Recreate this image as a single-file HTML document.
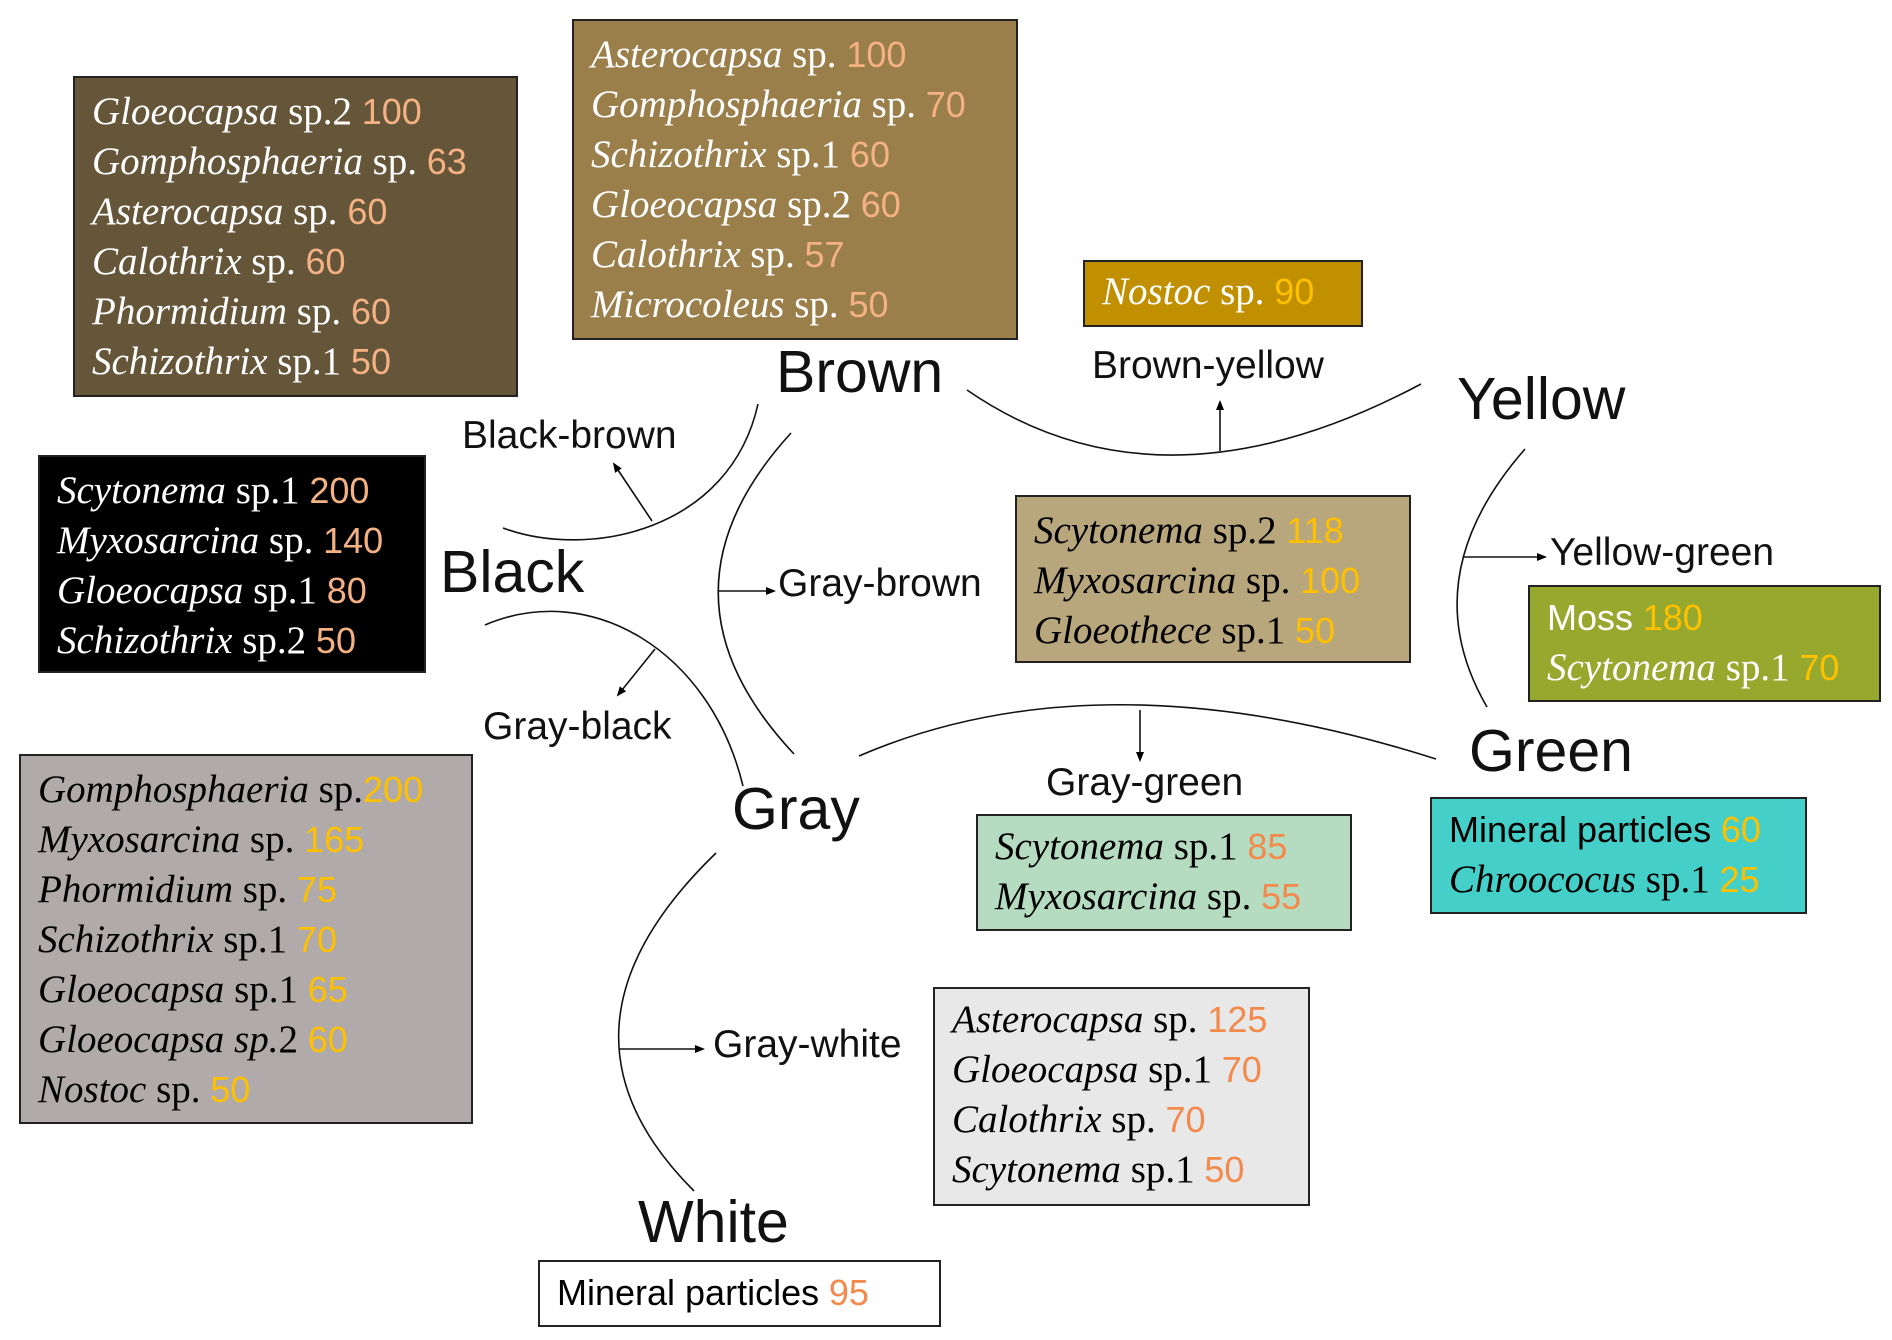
<!DOCTYPE html>
<html><head><meta charset="utf-8"><style>
body{margin:0;width:1892px;height:1340px;background:#fff;position:relative;overflow:hidden;font-family:"Liberation Sans",sans-serif}
.b{position:absolute;box-sizing:border-box;border:2px solid #222;padding:9px 0 0 17px;font-family:"Liberation Serif",serif;font-size:39px;line-height:50px;white-space:nowrap}
.b i{font-style:italic}
.n{font-family:"Liberation Sans",sans-serif;font-size:36px}
.w{color:#fff}
.s{color:#f4b183}.y{color:#ffc000}.o{color:#f4894c}
.l{position:absolute;white-space:nowrap;color:#111;line-height:1}
.big{font-size:59px}.sm{font-size:39px}
svg{position:absolute;left:0;top:0}
</style></head><body>
<svg width="1892" height="1340">
<defs><marker id="a" markerWidth="10" markerHeight="10" refX="8" refY="5" orient="auto" markerUnits="userSpaceOnUse"><path d="M0,1 L10,5 L0,9z" fill="#000"/></marker></defs>
<g fill="none" stroke="#111" stroke-width="1.6">
<path d="M503,528 C590,560 730,530 758,404"/>
<path d="M967,390 Q1160,523 1421,384"/>
<path d="M791,433 Q644,594 794,754"/>
<path d="M485,625 C590,580 710,650 743,786"/>
<path d="M1525,449 Q1412,578 1487,707"/>
<path d="M859,756 Q1100,652 1436,759"/>
<path d="M716,853 Q533,1030 694,1191"/>
<path d="M652,521 L614,464" marker-end="url(#a)"/>
<path d="M1220,451 L1220,402" marker-end="url(#a)"/>
<path d="M718,591 L774,591" marker-end="url(#a)"/>
<path d="M655,649 L618,695" marker-end="url(#a)"/>
<path d="M1463,557 L1545,557" marker-end="url(#a)"/>
<path d="M1140,710 L1140,760" marker-end="url(#a)"/>
<path d="M619,1049 L703,1049" marker-end="url(#a)"/>
</g></svg>

<div class="b w" style="left:73px;top:76px;width:445px;height:321px;background:#655539"><i>Gloeocapsa</i> sp.2 <span class="n s">100</span><br><i>Gomphosphaeria</i> sp. <span class="n s">63</span><br><i>Asterocapsa</i> sp. <span class="n s">60</span><br><i>Calothrix</i> sp. <span class="n s">60</span><br><i>Phormidium</i> sp. <span class="n s">60</span><br><i>Schizothrix</i> sp.1 <span class="n s">50</span></div>

<div class="b w" style="left:572px;top:19px;width:446px;height:321px;background:#9b7f4b"><i>Asterocapsa</i> sp. <span class="n s">100</span><br><i>Gomphosphaeria</i> sp. <span class="n s">70</span><br><i>Schizothrix</i> sp.1 <span class="n s">60</span><br><i>Gloeocapsa</i> sp.2 <span class="n s">60</span><br><i>Calothrix</i> sp. <span class="n s">57</span><br><i>Microcoleus</i> sp. <span class="n s">50</span></div>

<div class="b w" style="left:1083px;top:260px;width:280px;height:67px;background:#c09000;padding-top:5px"><i>Nostoc</i> sp. <span class="n y">90</span></div>

<div class="b w" style="left:38px;top:455px;width:388px;height:218px;background:#000"><i>Scytonema</i> sp.1 <span class="n s">200</span><br><i>Myxosarcina</i> sp. <span class="n s">140</span><br><i>Gloeocapsa</i> sp.1 <span class="n s">80</span><br><i>Schizothrix</i> sp.2 <span class="n s">50</span></div>

<div class="b" style="left:1015px;top:495px;width:396px;height:168px;background:#b8a67c"><i>Scytonema</i> sp.2 <span class="n y">118</span><br><i>Myxosarcina</i> sp. <span class="n y">100</span><br><i>Gloeothece</i> sp.1 <span class="n y">50</span></div>

<div class="b w" style="left:1528px;top:585px;width:353px;height:117px;background:#97a82e;padding-top:6px"><span class="n">Moss</span> <span class="n y">180</span><br><i>Scytonema</i> sp.1 <span class="n y">70</span></div>

<div class="b" style="left:19px;top:754px;width:454px;height:370px;background:#b0abaa"><i>Gomphosphaeria</i> sp.<span class="n y">200</span><br><i>Myxosarcina</i> sp. <span class="n y">165</span><br><i>Phormidium</i> sp. <span class="n y">75</span><br><i>Schizothrix</i> sp.1 <span class="n y">70</span><br><i>Gloeocapsa</i> sp.1 <span class="n y">65</span><br><i>Gloeocapsa sp.</i>2 <span class="n y">60</span><br><i>Nostoc</i> sp. <span class="n y">50</span></div>

<div class="b" style="left:976px;top:814px;width:376px;height:117px;background:#b5dcc1;padding-top:6px"><i>Scytonema</i> sp.1 <span class="n o">85</span><br><i>Myxosarcina</i> sp. <span class="n o">55</span></div>

<div class="b" style="left:1430px;top:797px;width:377px;height:117px;background:#44d0c8;padding-top:6px"><span class="n">Mineral particles</span> <span class="n y">60</span><br><i>Chroococus</i> sp.1 <span class="n y">25</span></div>

<div class="b" style="left:933px;top:987px;width:377px;height:219px;background:#e8e8e8;padding-top:6px"><i>Asterocapsa</i> sp. <span class="n o">125</span><br><i>Gloeocapsa</i> sp.1 <span class="n o">70</span><br><i>Calothrix</i> sp. <span class="n o">70</span><br><i>Scytonema</i> sp.1 <span class="n o">50</span></div>

<div class="b" style="left:538px;top:1260px;width:403px;height:67px;background:#fff;padding-top:6px"><span class="n">Mineral particles</span> <span class="n o">95</span></div>

<div class="l big" style="left:776px;top:343px">Brown</div>
<div class="l big" style="left:1457px;top:370px">Yellow</div>
<div class="l big" style="left:440px;top:543px">Black</div>
<div class="l big" style="left:1469px;top:722px">Green</div>
<div class="l big" style="left:732px;top:780px">Gray</div>
<div class="l big" style="left:638px;top:1193px">White</div>
<div class="l sm" style="left:462px;top:416px">Black-brown</div>
<div class="l sm" style="left:1092px;top:346px">Brown-yellow</div>
<div class="l sm" style="left:778px;top:564px">Gray-brown</div>
<div class="l sm" style="left:1550px;top:533px">Yellow-green</div>
<div class="l sm" style="left:483px;top:707px">Gray-black</div>
<div class="l sm" style="left:1046px;top:763px">Gray-green</div>
<div class="l sm" style="left:713px;top:1025px">Gray-white</div>
</body></html>
